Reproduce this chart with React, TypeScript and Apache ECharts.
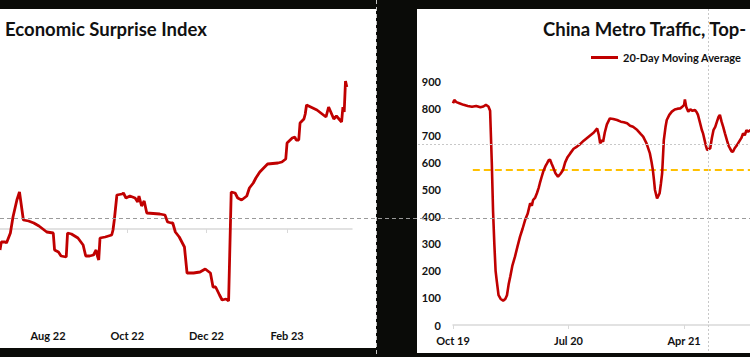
import React, { useEffect, useRef } from "react";
import * as echarts from "echarts";

const DAY = 86400000;
const ts = (s: string) => {
  const [y, m, d] = s.split("-").map(Number);
  return Date.UTC(y, m - 1, d);
};
const MONTHS = ["Jan", "Feb", "Mar", "Apr", "May", "Jun", "Jul", "Aug", "Sep", "Oct", "Nov", "Dec"];
const dayIndex = (start: string, date: string) => Math.round((ts(date) - ts(start)) / DAY);
const fmtDay = (start: string) => (v: number) => {
  const d = new Date(ts(start) + v * DAY);
  return MONTHS[d.getUTCMonth()] + " " + String(d.getUTCFullYear()).slice(2);
};

// ---------- Left chart: Economic Surprise Index ----------
const surpriseTitle = "Economic Surprise Index";
const surpriseStart = "2022-06-25";
const surpriseEnd = "2023-03-23";
// days since surpriseStart
const surpriseDays = [
  0, 1, 4, 5, 8, 10, 13, 15, 18, 22, 26, 30, 33, 36, 41, 42, 45, 47, 51, 52, 55, 60, 64, 66, 69, 72, 74, 75, 76, 77,
  81, 86, 87, 88, 90, 94, 95, 97, 100, 104, 106, 107, 109, 111, 113, 123, 127, 129, 132, 133, 135, 138, 142, 144,
  149, 154, 158, 162, 164, 166, 169, 171, 174, 176, 178, 181, 183, 186, 190, 192, 195, 197, 200, 206, 214, 217, 220,
  221, 225, 227, 228, 230, 231, 234, 235, 236, 244, 251, 253, 257, 259, 263, 264, 265, 266, 267,
];
const surpriseValues = [
  -21, -13, -13, -14, -4, 12, 29, 37, 9, 8, 6, 3, 0, -3, -4, -21, -23, -27, -28, -4, -5, -9, -16, -27, -27, -26, -21,
  -27, -31, -9, -8, -6, -1, 9, 34, 35, 36, 31, 33, 31, 27, 33, 23, 28, 16, 15, 14, 7, 6, 6, -3, -8, -18, -44, -44, -43,
  -40, -44, -58, -58, -66, -71, -70, -72, 37, 36, 31, 29, 33, 41, 46, 51, 57, 65, 66, 67, 70, 86, 91, 92, 89, 89, 106,
  110, 115, 124, 119, 112, 122, 110, 113, 107, 122, 117, 148, 142,
];
const surpriseLabelDates = ["2022-08-01", "2022-10-01", "2022-12-01", "2023-02-01"];
const surpriseTickDates = ["2022-10-01", "2022-12-01", "2023-02-01"];

// ---------- Right chart: China Metro Traffic ----------
const metroTitle = "China Metro Traffic, Top-";
const metroSeriesName = "20-Day Moving Average";
const metroStart = "2019-10-01";
const metroEnd = "2022-01-01";
// days since metroStart
const metroDays = [
  0, 3, 8, 15, 25, 35, 45, 55, 65, 72, 78, 84, 88, 92, 95, 98, 101, 104, 108, 113, 119, 124, 128, 132, 136, 141, 147,
  153, 159, 165, 171, 177, 183, 187, 190, 195, 199, 203, 206, 210, 214, 219, 223, 227, 230, 234, 237, 243, 249, 255,
  261, 266, 272, 278, 286, 294, 302, 310, 318, 326, 334, 342, 346, 349, 353, 356, 360, 365, 372, 380, 389, 398, 405,
  413, 420, 427, 437, 445, 451, 459, 467, 471, 474, 477, 479, 484, 487, 490, 493, 496, 498, 500, 504, 507, 513, 519,
  526, 533, 539, 544, 548, 550, 553, 558, 563, 568, 574, 578, 581, 586, 590, 593, 597, 600, 603, 607, 610, 614, 618,
  622, 626, 630, 633, 637, 641, 645, 650, 654, 657, 661, 664, 668, 672, 676, 680, 684, 688, 692, 696, 700, 705, 710,
];
const metroValues = [
  818, 830, 822, 818, 812, 808, 805, 808, 803, 806, 812, 806, 790, 600, 420, 300, 200, 160, 110, 96, 90, 96, 110, 150,
  180, 220, 252, 290, 326, 355, 387, 410, 449, 440, 461, 470, 486, 505, 523, 545, 566, 585, 596, 608, 610, 595, 584,
  560, 547, 558, 572, 600, 620, 633, 650, 658, 668, 680, 690, 700, 710, 725, 700, 670, 682, 676, 710, 740, 762, 760,
  756, 750, 748, 744, 735, 731, 719, 705, 695, 670, 633, 600, 572, 530, 498, 467, 476, 486, 520, 559, 620, 682, 730,
  756, 775, 787, 795, 798, 799, 805, 812, 832, 805, 787, 795, 790, 793, 785, 775, 745, 720, 707, 680, 660, 645, 650,
  651, 690, 720, 731, 750, 768, 775, 750, 730, 707, 680, 660, 651, 640, 639, 652, 660, 670, 680, 690, 707, 700, 719,
  713, 718, 725,
];
const metroThreshold = 572;
const metroThresholdFrom = "2019-11-17";
const metroLabelDates = ["2019-10-01", "2020-07-01", "2021-04-01"];

export default function App() {
  const ref = useRef<HTMLDivElement>(null);

  useEffect(() => {
    if (!ref.current) return;
    const chart = echarts.init(ref.current, undefined, { renderer: "svg" });
    const surpriseData = surpriseDays.map((d, i) => [d, surpriseValues[i]]);
    const metroData = metroDays.map((d, i) => [d, metroValues[i]]);
    const metroMax = dayIndex(metroStart, metroEnd);
    const thresholdData = [
      [dayIndex(metroStart, metroThresholdFrom), metroThreshold],
      [metroMax, metroThreshold],
    ];
    const labelFont = { fontFamily: "Lato", fontWeight: "bold" as const, fontSize: 11, color: "#111" };
    const axisGray = "#d9d9d9";
    const surpriseMax = dayIndex(surpriseStart, surpriseEnd);

    chart.setOption({
      animation: false,
      backgroundColor: "#0a0b08",
      grid: [
        { left: 0, width: 352, top: 49, height: 280 },
        { left: 0, width: 352, top: 49, height: 280 },
        { left: 453, width: 347, top: 81, height: 244 },
      ],
      xAxis: [
        {
          type: "value",
          gridIndex: 0,
          min: 0,
          max: surpriseMax,
          axisLine: { onZero: true, lineStyle: { color: axisGray, width: 1.5 } },
          axisTick: {
            show: true,
            length: 4,
            customValues: surpriseTickDates.map((d) => dayIndex(surpriseStart, d)),
            lineStyle: { color: axisGray },
          },
          axisLabel: { show: false },
          splitLine: { show: false },
        },
        {
          type: "value",
          gridIndex: 1,
          min: 0,
          max: surpriseMax,
          axisLine: { show: false, onZero: false },
          axisTick: { show: false },
          axisLabel: {
            ...labelFont,
            margin: 1,
            customValues: surpriseLabelDates.map((d) => dayIndex(surpriseStart, d)),
            formatter: fmtDay(surpriseStart),
          },
          splitLine: { show: false },
        },
        {
          type: "value",
          gridIndex: 2,
          min: 0,
          max: metroMax,
          axisLine: { onZero: true, lineStyle: { color: axisGray, width: 1.5 } },
          axisTick: {
            show: true,
            length: 4,
            customValues: metroLabelDates.map((d) => dayIndex(metroStart, d)),
            lineStyle: { color: axisGray },
          },
          axisLabel: {
            ...labelFont,
            margin: 10,
            customValues: metroLabelDates.map((d) => dayIndex(metroStart, d)),
            formatter: fmtDay(metroStart),
          },
          splitLine: { show: false },
        },
      ],
      yAxis: [
        { type: "value", gridIndex: 0, min: -100, max: 180, show: false, splitLine: { show: false } },
        { type: "value", gridIndex: 1, min: -100, max: 180, show: false, splitLine: { show: false } },
        {
          type: "value",
          gridIndex: 2,
          min: 0,
          max: 900,
          interval: 100,
          axisLine: { show: false },
          axisTick: { show: false },
          splitLine: { show: false },
          axisLabel: { ...labelFont, margin: 12 },
        },
      ],
      legend: {
        data: [{ name: metroSeriesName, icon: "rect" }],
        left: 586,
        top: 47,
        itemWidth: 27,
        itemHeight: 3,
        itemStyle: { color: "#c00000" },
        textStyle: { fontFamily: "Lato", fontWeight: "bold", fontSize: 11, color: "#111" },
      },
      series: [
        {
          name: surpriseTitle,
          type: "line",
          xAxisIndex: 0,
          yAxisIndex: 0,
          data: surpriseData,
          symbol: "none",
          lineStyle: { color: "#c00000", width: 2.8 },
          itemStyle: { color: "#c00000" },
        },
        {
          name: "Threshold",
          type: "line",
          xAxisIndex: 2,
          yAxisIndex: 2,
          data: thresholdData,
          symbol: "none",
          lineStyle: { color: "#ffc000", width: 2, type: [7, 4] },
          itemStyle: { color: "#ffc000" },
        },
        {
          name: metroSeriesName,
          type: "line",
          xAxisIndex: 2,
          yAxisIndex: 2,
          data: metroData,
          symbol: "none",
          lineStyle: { color: "#c00000", width: 2.6 },
          itemStyle: { color: "#c00000" },
        },
      ],
      graphic: [
        { type: "rect", z: -10, shape: { x: 0, y: 9, width: 376, height: 339 }, style: { fill: "#ffffff" } },
        { type: "rect", z: -10, shape: { x: 417, y: 9, width: 433, height: 344 }, style: { fill: "#ffffff" } },
        {
          type: "text",
          x: 5,
          y: 29,
          style: { text: surpriseTitle, font: "bold 18.5px Lato", fill: "#111", verticalAlign: "middle" },
        },
        {
          type: "text",
          x: 543,
          y: 29,
          style: { text: metroTitle, font: "bold 18.5px Lato", fill: "#111", verticalAlign: "middle" },
        },
        {
          type: "line",
          z: 100,
          shape: { x1: 0, y1: 218.5, x2: 750, y2: 218.5 },
          style: { stroke: "#9a9a9a", lineWidth: 1, lineDash: [4, 3] },
        },
        {
          type: "line",
          z: 100,
          shape: { x1: 376.5, y1: 0, x2: 376.5, y2: 357 },
          style: { stroke: "#c4c4c4", lineWidth: 1, lineDash: [4, 3] },
        },
        {
          type: "line",
          z: 100,
          shape: { x1: 708.5, y1: 9, x2: 708.5, y2: 353 },
          style: { stroke: "#c8c8c8", lineWidth: 1, lineDash: [2, 2] },
        },
        {
          type: "line",
          z: 100,
          shape: { x1: 418, y1: 144.5, x2: 750, y2: 144.5 },
          style: { stroke: "#c8c8c8", lineWidth: 1, lineDash: [2, 2] },
        },
      ],
    });
    return () => chart.dispose();
  }, []);

  return (
    <div style={{ position: "absolute", left: 0, top: 0, width: 750, height: 357, overflow: "hidden" }}>
      <div ref={ref} style={{ width: 850, height: 357 }} />
    </div>
  );
}
